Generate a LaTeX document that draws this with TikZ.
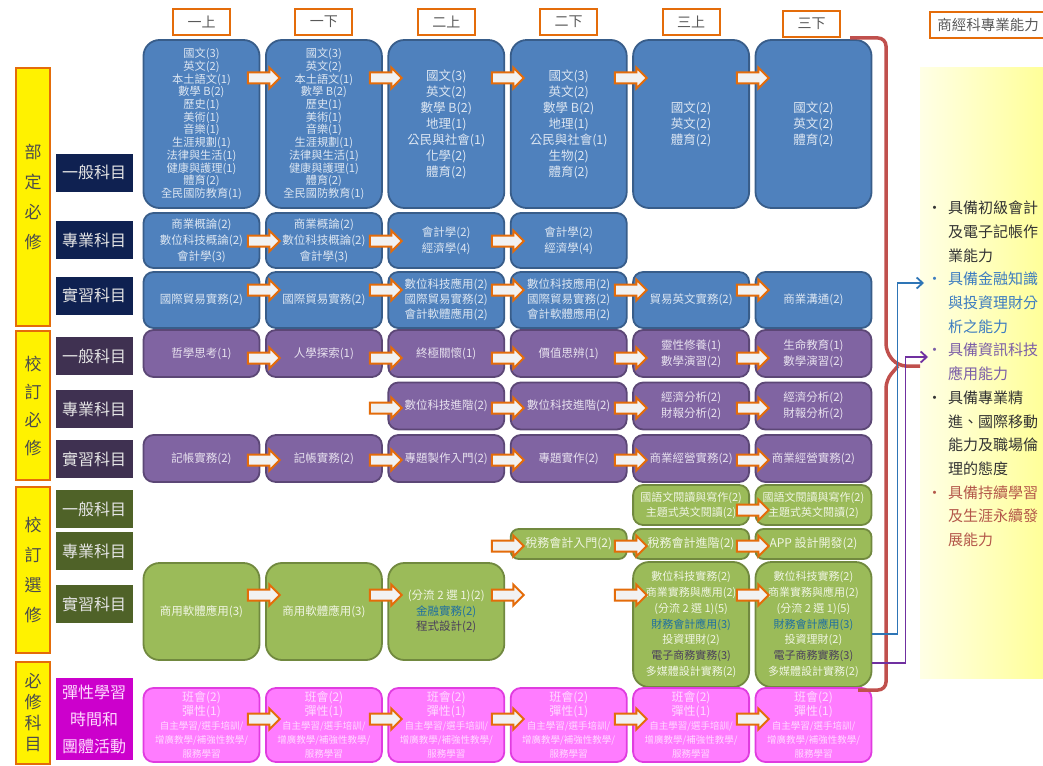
\documentclass[tikz,border=0pt]{standalone}
\usepackage{fontspec}
\setmainfont{Noto Sans CJK TC}
\usetikzlibrary{positioning,shapes.arrows,arrows.meta}

\definecolor{hdrorange}{HTML}{E46C0A}
\definecolor{blufill}{HTML}{4F81BD}
\definecolor{bluline}{HTML}{385D8A}
\definecolor{bluetext}{HTML}{DCE6F2}
\definecolor{purfill}{HTML}{8064A2}
\definecolor{purline}{HTML}{5C4776}
\definecolor{purtext}{HTML}{E8E2EF}
\definecolor{grnfill}{HTML}{9BBB59}
\definecolor{grnline}{HTML}{71893F}
\definecolor{grntext}{HTML}{F0F5E4}
\definecolor{pnkfill}{HTML}{FF7CFF}
\definecolor{pnkline}{HTML}{E03CE0}
\definecolor{pnktext}{HTML}{FFD9FF}
\definecolor{catblue}{HTML}{0F2151}
\definecolor{catpurple}{HTML}{3F3151}
\definecolor{catgreen}{HTML}{4F6228}
\definecolor{catpink}{HTML}{CC00CC}
\definecolor{arrfill}{HTML}{F2F2F2}
\definecolor{bracered}{HTML}{C0504D}
\definecolor{finblue}{HTML}{2E75B6}
\definecolor{infpurple}{HTML}{7030A0}
\definecolor{gfin}{HTML}{1F6FA0}
\definecolor{gdark}{HTML}{4A3F5C}
\definecolor{abilfin}{HTML}{3D7CC0}
\definecolor{abilinf}{HTML}{7B5EA7}
\definecolor{abillife}{HTML}{B4584A}
\definecolor{panelL}{HTML}{FFFFE6}
\definecolor{panelR}{HTML}{FFFF99}

% pink activity box text
\newcommand{\fsm}{\fontsize{9.5}{14}\selectfont}
\newcommand{\flexpink}{班會(2)\\彈性(1)\\\fsm 自主學習/選手培訓/\\\fsm 增廣教學/補強性教學/\\\fsm 服務學習}
\newcommand{\abul}[1]{\makebox[24pt][l]{\hspace{3pt}\color{#1}\textbullet}}

\begin{document}
\begin{tikzpicture}[x=1pt,y=-1pt,
	hdr/.style={draw=hdrorange,line width=2pt,fill=white,minimum width=57pt,minimum height=26pt,inner sep=0pt,text=black!65,font=\fontsize{14}{14}\selectfont},
	yel/.style={draw=hdrorange,line width=2.5pt,fill=yellow,minimum width=34pt,inner sep=0pt,align=center,text=black!70,font=\fontsize{17}{30}\selectfont},
	cat/.style={minimum width=77pt,minimum height=38pt,inner sep=0pt,align=center,text=white!90!black,font=\fontsize{16}{27}\selectfont},
	course/.style={rounded corners=10pt,line width=1.8pt,minimum width=116pt,inner sep=1pt,align=center,font=\fontsize{11.5}{16}\selectfont},
	bluebox/.style={course,draw=bluline,fill=blufill,text=bluetext},
	purplebox/.style={course,draw=purline,fill=purfill,text=purtext,minimum height=47pt},
	greenbox/.style={course,draw=grnline,fill=grnfill,text=grntext},
	pinkbox/.style={course,draw=pnkline,fill=pnkfill,text=pnktext,minimum height=74pt,font=\fontsize{12}{14}\selectfont},
	blk/.style={single arrow,draw=hdrorange,fill=arrfill,line width=2pt,minimum height=32pt,inner sep=4.5pt,single arrow head extend=5pt},
	redbrace/.style={draw=bracered,line width=3.5pt,rounded corners=8pt},
	finline/.style={draw=finblue,line width=1.8pt,-{Straight Barb[length=6pt,width=11pt]}},
	infline/.style={draw=infpurple,line width=1.8pt,-{Straight Barb[length=6pt,width=11pt]}}]

	\useasboundingbox (0,0) rectangle (1043,765);

	% 部定必修
	\node[bluebox,minimum height=168pt,rounded corners=16pt,font=\fontsize{11.2}{12.7}\selectfont] (a1) at (201.5,124)
		{國文(3)\\英文(2)\\本土語文(1)\\數學 B(2)\\歷史(1)\\美術(1)\\音樂(1)\\生涯規劃(1)\\法律與生活(1)\\健康與護理(1)\\體育(2)\\全民國防教育(1)};
	\node[bluebox,minimum height=168pt,rounded corners=16pt,font=\fontsize{11.2}{12.7}\selectfont] (a2) at (323.9,124)
		{國文(3)\\英文(2)\\本土語文(1)\\數學 B(2)\\歷史(1)\\美術(1)\\音樂(1)\\生涯規劃(1)\\法律與生活(1)\\健康與護理(1)\\體育(2)\\全民國防教育(1)};
	\node[bluebox,minimum height=168pt,rounded corners=16pt,font=\fontsize{12.5}{16}\selectfont] (a3) at (446.3,124)
		{國文(3)\\英文(2)\\數學 B(2)\\地理(1)\\公民與社會(1)\\化學(2)\\體育(2)};
	\node[bluebox,minimum height=168pt,rounded corners=16pt,font=\fontsize{12.5}{16}\selectfont] (a4) at (568.7,124)
		{國文(3)\\英文(2)\\數學 B(2)\\地理(1)\\公民與社會(1)\\生物(2)\\體育(2)};
	\node[bluebox,minimum height=168pt,rounded corners=16pt,font=\fontsize{12.5}{16}\selectfont] (a5) at (691.1,124) {國文(2)\\英文(2)\\體育(2)};
	\node[bluebox,minimum height=168pt,rounded corners=16pt,font=\fontsize{12.5}{16}\selectfont] (a6) at (813.5,124) {國文(2)\\英文(2)\\體育(2)};

	\node[bluebox,minimum height=55pt] (b1) at (201.5,240.5) {商業概論(2)\\數位科技概論(2)\\會計學(3)};
	\node[bluebox,minimum height=55pt] (b2) at (323.9,240.5) {商業概論(2)\\數位科技概論(2)\\會計學(3)};
	\node[bluebox,minimum height=55pt] (b3) at (446.3,240.5) {會計學(2)\\經濟學(4)};
	\node[bluebox,minimum height=55pt] (b4) at (568.7,240.5) {會計學(2)\\經濟學(4)};

	\node[bluebox,minimum height=56pt] (c1) at (201.5,300) {國際貿易實務(2)};
	\node[bluebox,minimum height=56pt] (c2) at (323.9,300) {國際貿易實務(2)};
	\node[bluebox,minimum height=56pt,font=\fontsize{11.5}{15}\selectfont] (c3) at (446.3,300) {數位科技應用(2)\\國際貿易實務(2)\\會計軟體應用(2)};
	\node[bluebox,minimum height=56pt,font=\fontsize{11.5}{15}\selectfont] (c4) at (568.7,300) {數位科技應用(2)\\國際貿易實務(2)\\會計軟體應用(2)};
	\node[bluebox,minimum height=56pt] (c5) at (691.1,300) {貿易英文實務(2)};
	\node[bluebox,minimum height=56pt] (c6) at (813.5,300) {商業溝通(2)};

	% 校訂必修
	\node[purplebox] (p1) at (201.5,353.5) {哲學思考(1)};
	\node[purplebox] (p2) at (323.9,353.5) {人學探索(1)};
	\node[purplebox] (p3) at (446.3,353.5) {終極關懷(1)};
	\node[purplebox] (p4) at (568.7,353.5) {價值思辨(1)};
	\node[purplebox] (p5) at (691.1,353.5) {靈性修養(1)\\數學演習(2)};
	\node[purplebox] (p6) at (813.5,353.5) {生命教育(1)\\數學演習(2)};

	\node[purplebox] (q3) at (446.3,406) {數位科技進階(2)};
	\node[purplebox] (q4) at (568.7,406) {數位科技進階(2)};
	\node[purplebox] (q5) at (691.1,406) {經濟分析(2)\\財報分析(2)};
	\node[purplebox] (q6) at (813.5,406) {經濟分析(2)\\財報分析(2)};

	\node[purplebox] (r1) at (201.5,458.5) {記帳實務(2)};
	\node[purplebox] (r2) at (323.9,458.5) {記帳實務(2)};
	\node[purplebox] (r3) at (446.3,458.5) {專題製作入門(2)};
	\node[purplebox] (r4) at (568.7,458.5) {專題實作(2)};
	\node[purplebox] (r5) at (691.1,458.5) {商業經營實務(2)};
	\node[purplebox] (r6) at (813.5,458.5) {商業經營實務(2)};

	% 校訂選修
	\node[greenbox,minimum height=40pt,font=\fontsize{11}{15}\selectfont] (s5) at (691.1,505) {國語文閱讀與寫作(2)\\主題式英文閱讀(2)};
	\node[greenbox,minimum height=40pt,font=\fontsize{11}{15}\selectfont] (s6) at (813.5,505) {國語文閱讀與寫作(2)\\主題式英文閱讀(2)};

	\node[greenbox,minimum height=30pt,rounded corners=8pt,font=\fontsize{12}{14}\selectfont] (t4) at (568.7,544) {稅務會計入門(2)};
	\node[greenbox,minimum height=30pt,rounded corners=8pt,font=\fontsize{12}{14}\selectfont] (t5) at (691.1,544) {稅務會計進階(2)};
	\node[greenbox,minimum height=30pt,rounded corners=8pt,font=\fontsize{12}{14}\selectfont] (t6) at (813.5,544) {APP 設計開發(2)};

	\node[greenbox,minimum height=97pt,rounded corners=16pt] (u1) at (201.5,611.5) {商用軟體應用(3)};
	\node[greenbox,minimum height=97pt,rounded corners=16pt] (u2) at (323.9,611.5) {商用軟體應用(3)};
	\node[greenbox,minimum height=97pt,rounded corners=16pt,font=\fontsize{11.5}{15.5}\selectfont] (u3) at (446.3,611.5)
		{(分流 2 選 1)(2)\\\color{gfin}金融實務(2)\\\color{gdark}程式設計(2)};
	\node[greenbox,minimum height=125pt,rounded corners=16pt,font=\fontsize{11}{15.7}\selectfont] (u5) at (691.1,624.5)
		{數位科技實務(2)\\商業實務與應用(2)\\(分流 2 選 1)(5)\\\color{gfin}財務會計應用(3)\\投資理財(2)\\\color{gdark}電子商務實務(3)\\多媒體設計實務(2)};
	\node[greenbox,minimum height=125pt,rounded corners=16pt,font=\fontsize{11}{15.7}\selectfont] (u6) at (813.5,624.5)
		{數位科技實務(2)\\商業實務與應用(2)\\(分流 2 選 1)(5)\\\color{gfin}財務會計應用(3)\\投資理財(2)\\\color{gdark}電子商務實務(3)\\多媒體設計實務(2)};

	% 彈性學習時間
	\foreach \x [count=\i] in {201.5,323.9,446.3,568.7,691.1,813.5}
		\node[pinkbox] (v\i) at (\x,725) {\flexpink};

	% block arrows between semesters
	\foreach \y/\xs in {78/{261,383,505,628,750},241/{261,383,505},290/{261,383,505,628,750},
			358/{261,383,505,628,750},408/{383,505,628,750},460/{261,383,505,628,750},
			510/{750},546/{505,628,750},595/{261,383,505,628,750},719/{261,383,505,628,750}}
		\foreach \x in \xs
			\node[blk] (arr-\x-\y) at (\x,\y) {};

	% semester headers
	\node[hdr,above=3pt of a1] (h1) {一上};
	\node[hdr,above=3pt of a2] (h2) {一下};
	\node[hdr,above=3pt of a3] (h3) {二上};
	\node[hdr,above=3pt of a4] (h4) {二下};
	\node[hdr,above=3pt of a5] (h5) {三上};
	\node[hdr] (h6) at (811.5,24) {三下};
	\node[hdr,minimum width=116pt,font=\fontsize{14.5}{15}\selectfont] (h7) at (988,25) {商經科專業能力};

	% left labels
	\node[yel,minimum height=258pt] (y1) at (33,197) {部\\定\\必\\修};
	\node[yel,minimum height=149pt,font=\fontsize{17}{28}\selectfont] (y2) at (33,405.5) {校\\訂\\必\\修};
	\node[yel,minimum height=166pt] (y3) at (33,570) {校\\訂\\選\\修};
	\node[yel,minimum height=102pt,font=\fontsize{17}{21}\selectfont] (y4) at (33,713) {必\\修\\科\\目};

	\node[cat,fill=catblue] (k1) at (94,172.5) {一般科目};
	\node[cat,fill=catblue] (k2) at (94,240) {專業科目};
	\node[cat,fill=catblue] (k3) at (94,295.5) {實習科目};
	\node[cat,fill=catpurple] (k4) at (94,356) {一般科目};
	\node[cat,fill=catpurple] (k5) at (94,409) {專業科目};
	\node[cat,fill=catpurple] (k6) at (94,459) {實習科目};
	\node[cat,fill=catgreen] (k7) at (94,509) {一般科目};
	\node[cat,fill=catgreen] (k8) at (94,551) {專業科目};
	\node[cat,fill=catgreen] (k9) at (94,604) {實習科目};
	\node[cat,fill=catpink,minimum height=82pt,text=pnktext] (k10) at (94,719) {彈性學習\\時間和\\團體活動};

	% abilities panel
	\node[minimum width=123pt,minimum height=610pt,inner sep=0pt,left color=panelL,right color=panelR] (panel) at (981.5,373) {};
	\node[anchor=north west,inner sep=0pt,font=\fontsize{15}{23.7}\selectfont,text=black!80] (ability) at (924,197) {%
		\begin{tabular}{@{}l@{}l@{}}
			\abul{black!80} & 具備初級會計\\
			& 及電子記帳作\\
			& 業能力\\
			\abul{abilfin} & \color{abilfin}具備金融知識\\
			& \color{abilfin}與投資理財分\\
			& \color{abilfin}析之能力\\
			\abul{abilinf} & \color{abilinf}具備資訊科技\\
			& \color{abilinf}應用能力\\
			\abul{black!80} & 具備專業精\\
			& 進、國際移動\\
			& 能力及職場倫\\
			& 理的態度\\
			\abul{abillife} & \color{abillife}具備持續學習\\
			& \color{abillife}及生涯永續發\\
			& \color{abillife}展能力
		\end{tabular}};

	% brace and links
	\draw[redbrace] (850,38) -- (886,38) -- (886,352) -- (898,366) -- (920,366);
	\draw[redbrace] (898,366) -- (886,380) -- (886,690) -- (858,690);

	\coordinate (fs) at ([yshift=-9.5pt]u6.east);
	\coordinate (is) at ([yshift=-38.5pt]u6.east);
	\coordinate (fin) at (924,283);
	\coordinate (inf) at (928,357);
	\draw[finline] (fs) -- ++(25,0) |- (fin);
	\draw[infline] (is) -- ++(33,0) |- (inf);

\end{tikzpicture}
\end{document}
